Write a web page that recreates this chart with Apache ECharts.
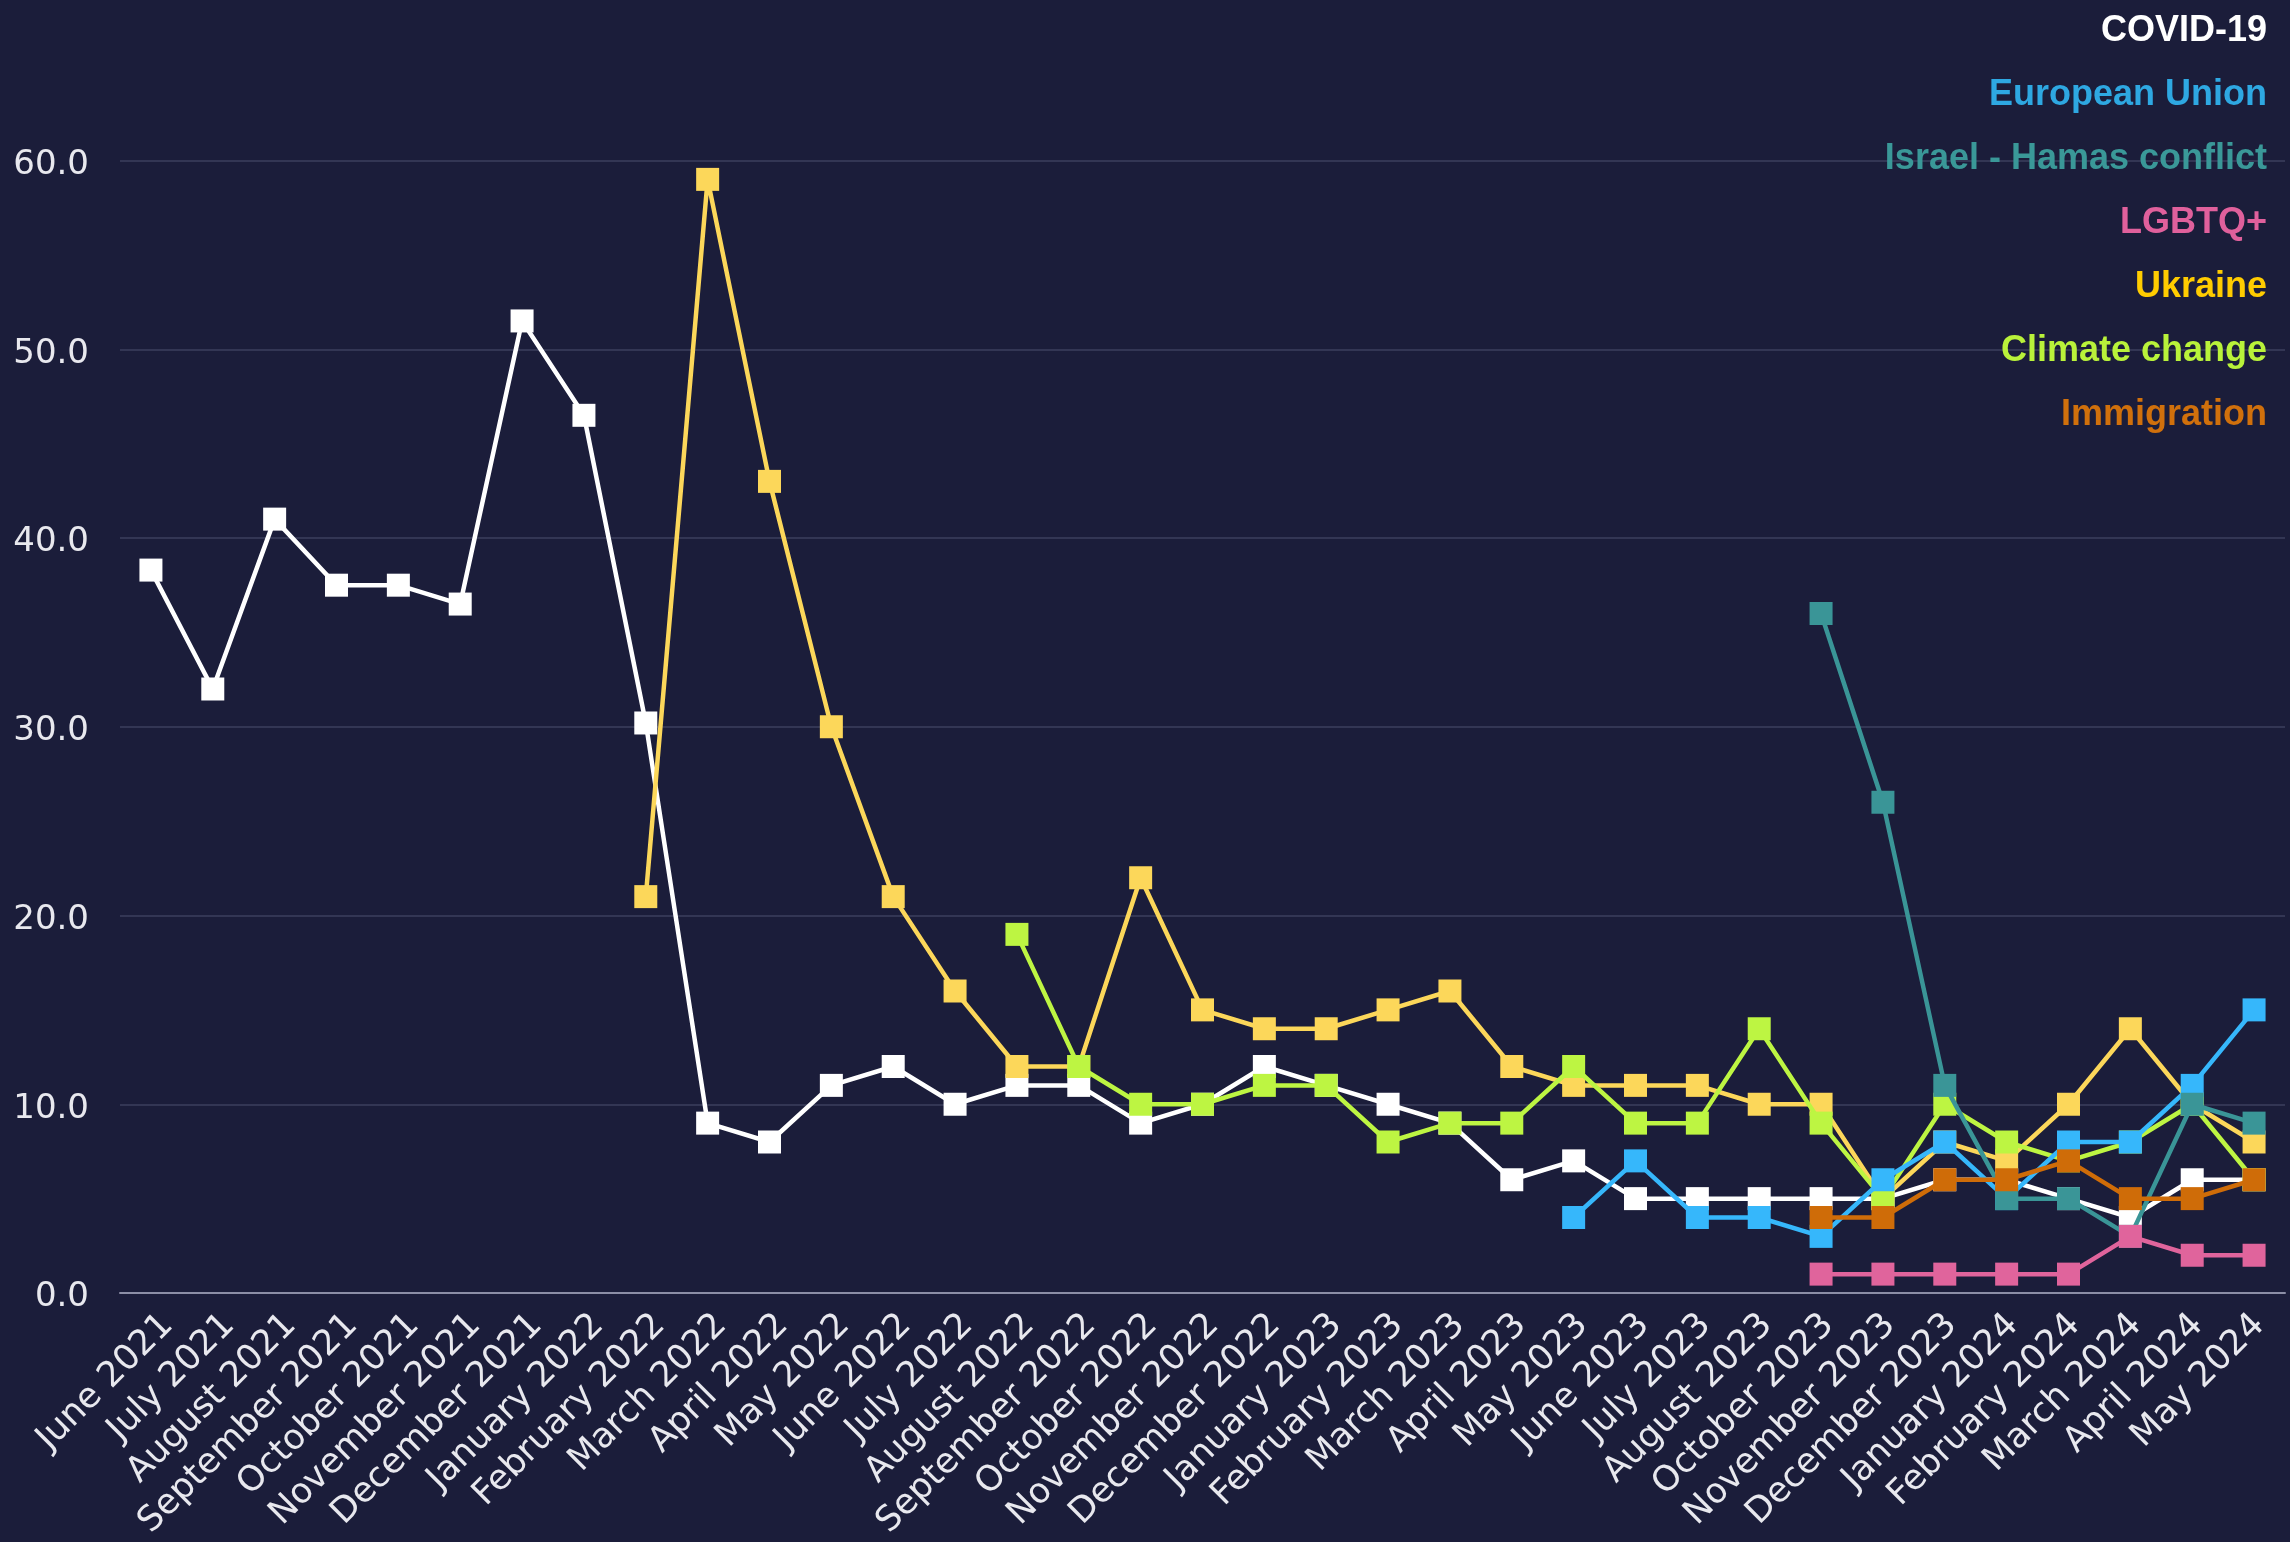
<!DOCTYPE html>
<html>
<head>
<meta charset="utf-8">
<title>Topics</title>
<script src="https://cdn.jsdelivr.net/npm/echarts@6/dist/echarts.min.js"></script>
<style>
  html, body { margin: 0; padding: 0; background: #1b1d3a; }
  #main { width: 2290px; height: 1542px; }
</style>
</head>
<body>
<div id="main"></div>
<script>
// months on the x axis (no September 2023 in the source)
const months = [
  'June 2021', 'July 2021', 'August 2021', 'September 2021', 'October 2021', 'November 2021',
  'December 2021', 'January 2022', 'February 2022', 'March 2022', 'April 2022', 'May 2022',
  'June 2022', 'July 2022', 'August 2022', 'September 2022', 'October 2022', 'November 2022',
  'December 2022', 'January 2023', 'February 2023', 'March 2023', 'April 2023', 'May 2023',
  'June 2023', 'July 2023', 'August 2023', 'October 2023', 'November 2023', 'December 2023',
  'January 2024', 'February 2024', 'March 2024', 'April 2024', 'May 2024'
]

const yTicks = [0, 10, 20, 30, 40, 50, 60]

const covid = [38.3, 32, 41, 37.5, 37.5, 36.5, 51.5, 46.5, 30.2, 9, 8, 11, 12, 10, 11, 11, 9, 10,
  12, 11, 10, 9, 6, 7, 5, 5, 5, 5, 5, 6, 6, 5, 4, 6, 6]
const europeanUnion = [null, null, null, null, null, null, null, null, null, null, null, null,
  null, null, null, null, null, null, null, null, null, null, null,
  4, 7, 4, 4, 3, 6, 8, 5, 8, 8, 11, 15]
const israelHamas = [null, null, null, null, null, null, null, null, null, null, null, null,
  null, null, null, null, null, null, null, null, null, null, null, null, null, null, null,
  36, 26, 11, 5, 5, 3, 10, 9]
const lgbtq = [null, null, null, null, null, null, null, null, null, null, null, null,
  null, null, null, null, null, null, null, null, null, null, null, null, null, null, null,
  1, 1, 1, 1, 1, 3, 2, 2]
const ukraine = [null, null, null, null, null, null, null, null,
  21, 59, 43, 30, 21, 16, 12, 12, 22, 15, 14, 14, 15, 16, 12, 11, 11, 11, 10, 10, 5, 8, 7, 10, 14, 10, 8]
const climateChange = [null, null, null, null, null, null, null, null, null, null, null, null, null, null,
  19, 12, 10, 10, 11, 11, 8, 9, 9, 12, 9, 9, 14, 9, 5, 10, 8, 7, 8, 10, 6]
const immigration = [null, null, null, null, null, null, null, null, null, null, null, null,
  null, null, null, null, null, null, null, null, null, null, null, null, null, null, null,
  4, 4, 6, 6, 7, 5, 5, 6]

const legendNames = ['COVID-19', 'European Union', 'Israel - Hamas conflict', 'LGBTQ+', 'Ukraine', 'Climate change', 'Immigration']
const legendColors = ['#ffffff', '#2ea8e2', '#3a9898', '#e0609c', '#ffcc00', '#b9f23a', '#d0700c']

const chart = echarts.init(document.getElementById('main'))

function line(name, data, color, z) {
  return {
    name: name,
    type: 'line',
    data: data,
    z: z,
    symbol: 'rect',
    symbolSize: 23,
    showSymbol: true,
    lineStyle: { width: 4.5, color: color },
    itemStyle: { color: color },
    emphasis: { disabled: true }
  }
}

const axisFont = 'DejaVu Sans, sans-serif'

chart.setOption({
  backgroundColor: '#1b1d3a',
  animation: false,
  legend: {
    orient: 'vertical',
    right: 18,
    top: 11,
    padding: 0,
    align: 'right',
    icon: 'none',
    itemWidth: 0,
    itemHeight: 0,
    itemGap: 24,
    selectedMode: false,
    textStyle: {
      fontSize: 36,
      fontWeight: 'bold',
      fontFamily: 'Liberation Sans, Arial, sans-serif',
      lineHeight: 40
    },
    data: legendNames.map((n, i) => ({ name: n, textStyle: { color: legendColors[i] } }))
  },
  grid: [
    // plot area
    { left: 120, right: 5, top: 160.5, bottom: 249 },
    // label-only grid, shifted right so rotated labels end past the tick like the source
    { left: 137, right: -12, top: 160.5, bottom: 249, show: false }
  ],
  xAxis: [
    {
      type: 'category',
      gridIndex: 0,
      data: months,
      boundaryGap: true,
      axisLine: { show: true, lineStyle: { color: '#8c8ea6', width: 2 } },
      axisTick: { show: false },
      axisLabel: { show: false }
    },
    {
      type: 'category',
      gridIndex: 1,
      data: months,
      boundaryGap: true,
      axisLine: { show: false },
      axisTick: { show: false },
      splitLine: { show: false },
      axisLabel: {
        interval: 0,
        rotate: 45,
        margin: 52,
        color: '#e8e8ee',
        fontSize: 35,
        fontFamily: axisFont
      }
    }
  ],
  yAxis: [
    {
      type: 'value',
      gridIndex: 0,
      min: yTicks[0],
      max: yTicks[yTicks.length - 1],
      interval: 10,
      axisLine: { show: false },
      axisTick: { show: false },
      axisLabel: {
        margin: 31,
        color: '#e8e8ee',
        fontSize: 34,
        fontFamily: axisFont,
        formatter: v => '{t|' + v.toFixed(1) + '}',
        rich: {
          // nudge the numbers down a bit so they sit centred on the grid line
          t: { fontSize: 34, fontFamily: axisFont, color: '#e8e8ee', padding: [9, 0, 0, 0] }
        }
      },
      splitLine: { lineStyle: { color: '#3d3f5e', width: 1.5 } }
    },
    { type: 'value', gridIndex: 1, show: false, min: 0, max: 60 }
  ],
  series: [
    line('COVID-19', covid, '#ffffff', 2),
    line('Ukraine', ukraine, '#fcd75a', 3),
    line('Climate change', climateChange, '#bdf542', 4),
    line('European Union', europeanUnion, '#36b7fb', 5),
    line('Israel - Hamas conflict', israelHamas, '#3a9597', 6),
    line('LGBTQ+', lgbtq, '#e0649c', 7),
    line('Immigration', immigration, '#cf6c08', 8)
  ]
})
</script>
</body>
</html>
